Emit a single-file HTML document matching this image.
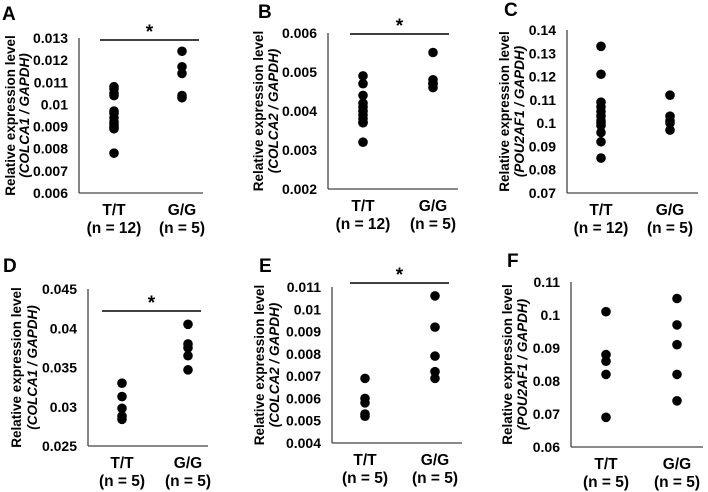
<!DOCTYPE html>
<html><head><meta charset="utf-8"><style>
body{margin:0;background:#fff}
svg{display:block;font-family:"Liberation Sans",Arial,sans-serif;font-weight:bold}
</style></head><body>
<svg id="fig" width="708" height="492" viewBox="0 0 708 492"></svg>
<script>
const categories=["T/T","G/G"];
const nA=["(n = 12)","(n = 5)"];
const nB=["(n = 5)","(n = 5)"];
const aTT=[0.0108,0.0107,0.0105,0.0104,0.0097,0.0096,0.0094,0.0092,0.0091,0.0090,0.0089,0.0078];
const aGG=[0.0124,0.0117,0.0114,0.0104,0.0103];
const bTT=[0.0049,0.0047,0.0044,0.0042,0.0041,0.0040,0.0040,0.0039,0.0038,0.0037,0.0037,0.0032];
const bGG=[0.0055,0.0048,0.0047,0.0047,0.0046];
const cTT=[0.133,0.121,0.109,0.107,0.105,0.103,0.101,0.100,0.099,0.096,0.092,0.085];
const cGG=[0.112,0.103,0.101,0.100,0.097];
const dTT=[0.033,0.0313,0.0298,0.0288,0.0284];
const dGG=[0.0405,0.0380,0.0375,0.0365,0.0347];
const eTT=[0.0069,0.0060,0.0058,0.0053,0.0052];
const eGG=[0.0106,0.0092,0.0079,0.0072,0.0069];
const fTT=[0.101,0.088,0.086,0.082,0.069];
const fGG=[0.105,0.097,0.091,0.082,0.074];
const ticksA=["0.006","0.007","0.008","0.009","0.01","0.011","0.012","0.013"];
const ticksB=["0.002","0.003","0.004","0.005","0.006"];
const ticksC=["0.07","0.08","0.09","0.1","0.11","0.12","0.13","0.14"];
const ticksD=["0.025","0.03","0.035","0.04","0.045"];
const ticksE=["0.004","0.005","0.006","0.007","0.008","0.009","0.01","0.011"];
const ticksF=["0.06","0.07","0.08","0.09","0.1","0.11"];

const NS="http://www.w3.org/2000/svg";
const svg=document.getElementById('fig');
function el(tag,attrs,parent,text){const e=document.createElementNS(NS,tag);for(const k in attrs)e.setAttribute(k,attrs[k]);if(text!==undefined)e.textContent=text;parent.appendChild(e);return e;}

const panels=[
 {id:"a",L:"A",gene:"COLCA1",ax:79,yT:38,yB:193,xe:203,c1:114,c2:182,ticks:ticksA,s:[aTT,aGG],n:nA,sig:[100,199,40],lx:2,ly:20,t1:10,t2:24},
 {id:"b",L:"B",gene:"COLCA2",ax:328,yT:33,yB:189,xe:458,c1:363,c2:433,ticks:ticksB,s:[bTT,bGG],n:nA,sig:[350,449,34],lx:258,ly:18,t1:258,t2:273},
 {id:"c",L:"C",gene:"POU2AF1",ax:567,yT:30,yB:193,xe:698,c1:601,c2:670,ticks:ticksC,s:[cTT,cGG],n:nA,sig:null,lx:504,ly:16,t1:504,t2:519},
 {id:"d",L:"D",gene:"COLCA1",ax:88,yT:289,yB:446,xe:208,c1:122,c2:188,ticks:ticksD,s:[dTT,dGG],n:nB,sig:[102,201,311],lx:3,ly:272,t1:16,t2:32},
 {id:"e",L:"E",gene:"COLCA2",ax:332,yT:287,yB:443,xe:462,c1:365,c2:435,ticks:ticksE,s:[eTT,eGG],n:nB,sig:[350,449,283],lx:259,ly:272,t1:259,t2:274},
 {id:"f",L:"F",gene:"POU2AF1",ax:571,yT:282,yB:447,xe:703,c1:606,c2:677,ticks:ticksF,s:[fTT,fGG],n:nB,sig:null,lx:507,ly:267,t1:507,t2:522}
];

panels.forEach(p=>{
 const g=el('g',{},svg);
 
 
 const lo=parseFloat(p.ticks[0]),hi=parseFloat(p.ticks[p.ticks.length-1]);
 const y=v=>p.yB-(v-lo)/(hi-lo)*(p.yB-p.yT);
 const lt=el('text',{x:p.lx,y:p.ly,'font-size':19},g,p.L);
 
 
 const ya=el('line',{x1:p.ax,y1:p.yT,x2:p.ax,y2:p.yB,stroke:'#444','stroke-width':1.3},g);
 
 
 const xa=el('line',{x1:p.ax,y1:p.yB,x2:p.xe,y2:p.yB,stroke:'#444','stroke-width':1.3},g);
 
 
 p.ticks.forEach(t=>{
  const tt=el('text',{x:p.ax-11,y:y(parseFloat(t))+5,'font-size':14,'text-anchor':'end'},g,t);
  
  
 });
 const midY=(p.yT+p.yB)/2;
 const t1=el('text',{x:0,y:0,'font-size':13.5,'text-anchor':'middle',transform:`translate(${p.t1+5},${midY}) rotate(-90)`},g,'Relative expression level');
 
 
 const t2=el('text',{x:0,y:0,'font-size':13.5,'text-anchor':'middle','font-style':'italic',transform:`translate(${p.t2+5},${midY}) rotate(-90)`},g);
 
 
 t2.textContent='('+p.gene+' / GAPDH)';
 [p.c1,p.c2].forEach((cx,i)=>{
  const c=el('text',{x:cx,y:p.yB+22,'font-size':15.5,'text-anchor':'middle'},g,categories[i]);
  
  
  const n=el('text',{x:cx,y:p.yB+40,'font-size':15.5,'text-anchor':'middle'},g,p.n[i]);
  
  
  p.s[i].forEach(v=>{
   const d=el('circle',{cx:cx,cy:y(v),r:4.8,fill:'#000'},g);
   
   
  });
 });
 if(p.sig){
  const sl=el('line',{x1:p.sig[0],y1:p.sig[2],x2:p.sig[1],y2:p.sig[2],stroke:'#000','stroke-width':1.5},g);
  
  
  const st=el('text',{x:(p.sig[0]+p.sig[1])/2,y:p.sig[2]-2,'font-size':19,'text-anchor':'middle'},g,'*');
  
  
 }
});
</script>
</body></html>
